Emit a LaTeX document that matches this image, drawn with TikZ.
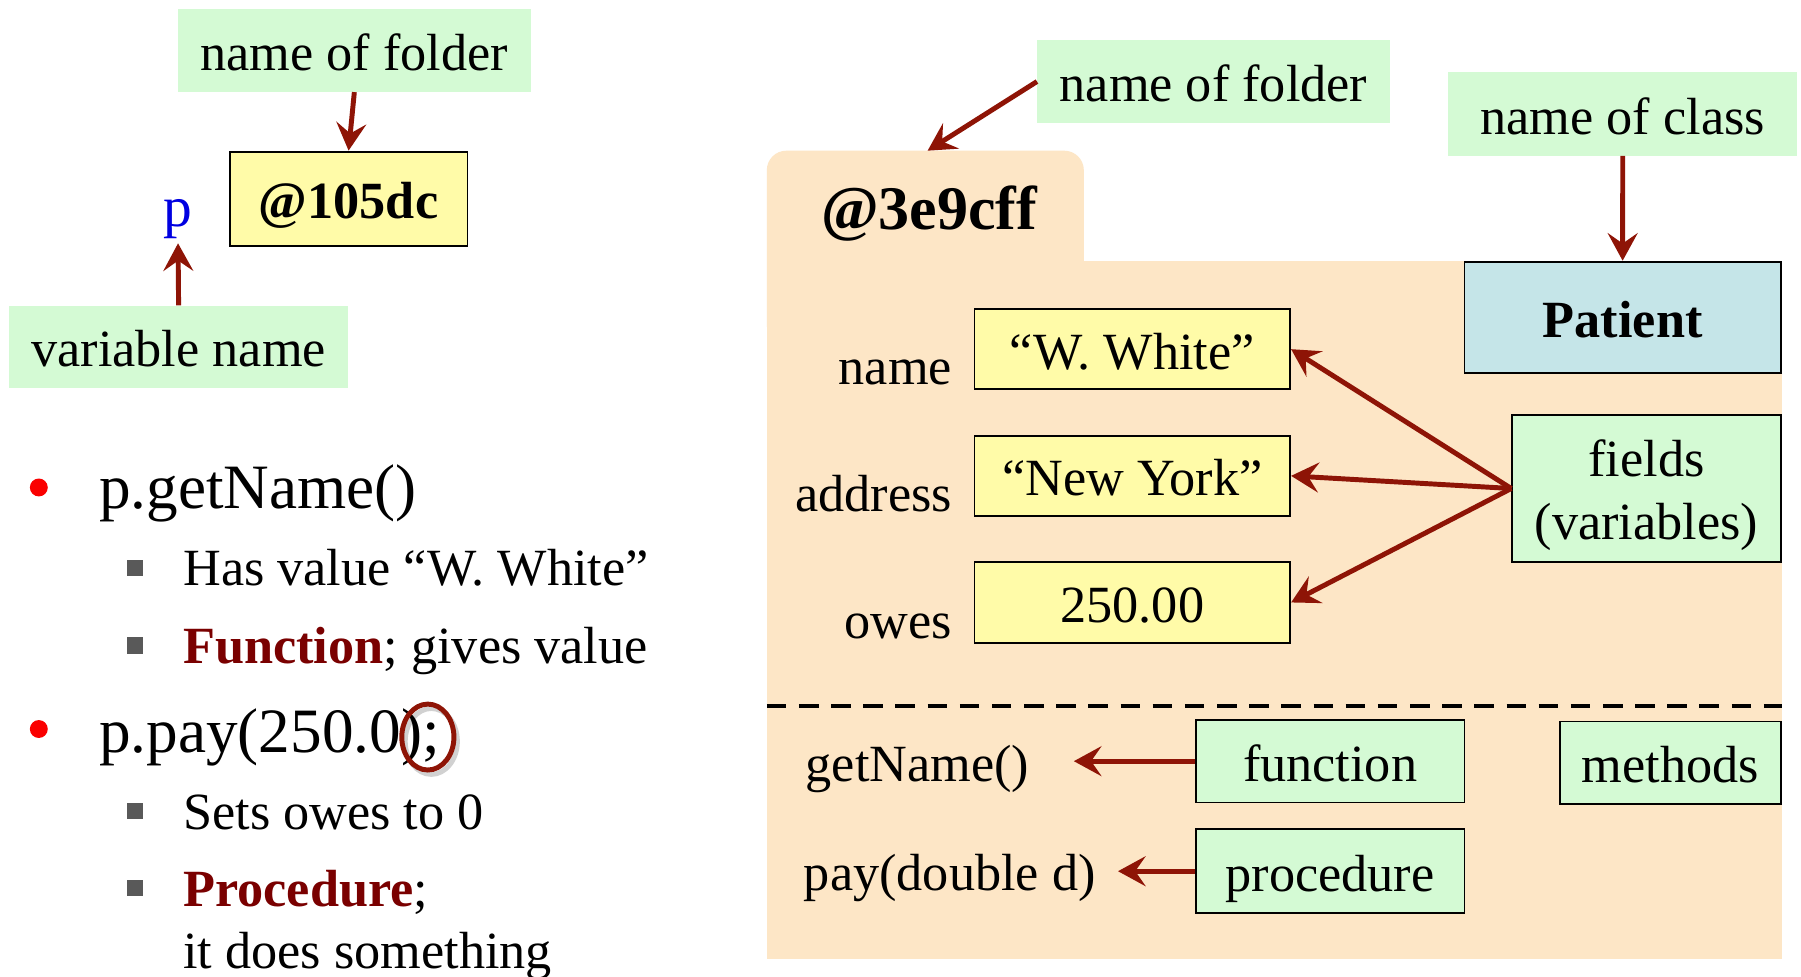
\documentclass[tikz,border=0pt]{standalone}
\usepackage{fontspec}
\setmainfont{Liberation Serif}
\usetikzlibrary{arrows.meta}

\definecolor{tagGreen}{RGB}{212,250,212}
\definecolor{valYellow}{RGB}{255,251,168}
\definecolor{folderPeach}{RGB}{253,230,198}
\definecolor{classBlue}{RGB}{197,229,232}
\definecolor{arrowRed}{RGB}{142,20,6}
\definecolor{termRed}{RGB}{122,0,0}
\definecolor{bulletRed}{RGB}{250,0,0}
\definecolor{bulletGray}{RGB}{89,89,89}
\definecolor{varBlue}{RGB}{0,0,225}

\begin{document}
\begin{tikzpicture}[x=1pt,y=-1pt,
  txt/.style={font=\fontsize{45.5}{55}\selectfont, inner sep=0pt},
  big/.style={font=\fontsize{55}{64}\selectfont, inner sep=0pt},
  boxed/.style={txt, text height=35pt, text depth=0pt},
  tag/.style={boxed, fill=tagGreen},
  tagbox/.style={tag, draw=black, line width=1.5pt},
  valbox/.style={boxed, fill=valYellow, draw=black, line width=1.7pt},
  arr/.style={draw=arrowRed, line width=4.3pt,
    -{Stealth[length=24pt, width=26pt, inset=9pt]}},
  dot/.style={circle, fill=bulletRed, inner sep=0pt, minimum size=15.6pt},
  sq/.style={rectangle, fill=bulletGray, inner sep=0pt, minimum size=14pt}
]
\fill[white] (0,0) rectangle (1568,850.6);
\useasboundingbox (0,0) rectangle (1568,850.6);

% ---------- variable p and its folder name ----------
\node[tag, minimum width=307pt, minimum height=72pt] (nf1) at (308.5,44) {name of folder};
\node[valbox, minimum width=207pt, minimum height=82pt, font=\fontsize{45.5}{55}\selectfont\bfseries] (addr1) at (303.5,173) {@105dc};
\node[font=\fontsize{50}{60}\selectfont, text=varBlue, inner sep=4pt, anchor=base] (pvar) at (155,197) {p};
\node[tag, minimum width=295pt, minimum height=72pt] (vn) at (155.5,302) {variable name};

\draw[arr] (nf1.south) -- (addr1.north);
\draw[arr] (vn.north) -- (pvar.south);

% ---------- bullet list ----------
\node[dot] (b1) at (33.8,424.4) {};
\node[big, anchor=base west] (t1) at (86.3,443) {p.getName()};
\node[sq] (s1) at (117.6,494.5) {};
\node[txt, anchor=base west] (t11) at (159.4,510) {Has value “W. White”};
\node[sq] (s2) at (117.6,562) {};
\node[txt, anchor=base west] (t12) at (159.4,577.5) {{\bfseries\color{termRed}Function}; gives value};

\node[dot] (b2) at (33.8,634.7) {};
\node[big, anchor=base west] (t2) at (86.3,654.8) {p.pay(250.0);};
\node[sq] (s3) at (117.6,706.4) {};
\node[txt, anchor=base west] (t21) at (159.4,721.9) {Sets owes to 0};
\node[sq] (s4) at (117.6,773.3) {};
\node[txt, anchor=base west] (t22) at (159.4,788.8) {{\bfseries\color{termRed}Procedure};};
\node[txt, anchor=base west] (t23) at (159.4,843.5) {it does something};

% ring around the semicolon, with a faint shadow
\draw[black, opacity=0.18, line width=4.3pt] (375.5,645.5) ellipse [x radius=22.7pt, y radius=28.7pt];
\draw[arrowRed, line width=4.3pt] (372.5,641.7) ellipse [x radius=22.7pt, y radius=28.7pt];

% ---------- the folder ----------
\fill[folderPeach, rounded corners=17pt] (667.6,300) -- (667.6,131.2) -- (943.6,131.2) -- (943.6,300) -- cycle;
\fill[folderPeach] (667.6,227) rectangle (1551.4,834.8);
\coordinate (tabtop) at (807.6,131.2);
\node[txt, font=\fontsize{54}{64}\selectfont\bfseries, anchor=base] (fname) at (808.9,199.7) {@3e9cff};

\node[tag, minimum width=307pt, minimum height=72pt] (nf2) at (1056.5,71) {name of folder};
\draw[arr] (nf2.west) -- (tabtop);

\node[tag, minimum width=304pt, minimum height=72.5pt] (nc) at (1412.8,99.2) {name of class};
\node[boxed, fill=classBlue, draw=black, line width=1.7pt, minimum width=275.4pt, minimum height=96.7pt,
      font=\fontsize{45.5}{55}\selectfont\bfseries] (pat) at (1412.7,276.2) {Patient};
\draw[arr] (nc.south) -- (pat.north);

% fields
\node[txt, anchor=base east] (lname) at (829,335) {name};
\node[txt, anchor=base east] (laddr) at (829,445.2) {address};
\node[txt, anchor=base east] (lowes) at (829,555.6) {owes};

\node[valbox, minimum width=274.8pt, minimum height=69.4pt] (vname) at (985.8,304) {“W. White”};
\node[valbox, minimum width=274.8pt, minimum height=69.3pt] (vaddr) at (985.8,414.3) {“New York”};
\node[valbox, minimum width=274.8pt, minimum height=70.3pt] (vowes) at (985.8,524.5) {250.00};

\node[tagbox, minimum width=234pt, minimum height=128pt] (fv) at (1433.5,425.3) {};
\node[txt, align=center, yshift=-6pt] (fvtext) at (fv.center) {fields\\(variables)};

\draw[arr] (fv.west) -- (vname.east);
\draw[arr] (fv.west) -- (vaddr.east);
\draw[arr] (fv.west) -- (vowes.east);

% divider between fields and methods
\draw[black, line width=3.4pt, dash pattern=on 17pt off 11pt] (667.6,614.3) -- (1551.4,614.3);

% methods
\node[txt, anchor=base west] (gn) at (701.4,680.6) {getName()};
\node[txt, anchor=base west] (pd) at (699.7,775.1) {pay(double d)};
\node[tagbox, minimum width=234pt, minimum height=72pt] (fn) at (1158,662.7) {function};
\node[tagbox, minimum width=192.5pt, minimum height=71.6pt] (mt) at (1454.2,664) {methods};
\node[tagbox, minimum width=234pt, minimum height=73pt] (pr) at (1158,758.5) {procedure};

\coordinate (gtip) at ([xshift=38.6pt]gn.east);
\coordinate (ptip) at ([xshift=19.3pt]pd.east);
\draw[arr] (fn.west) -- (fn.west -| gtip);
\draw[arr] (pr.west) -- (pr.west -| ptip);
\end{tikzpicture}
\end{document}
